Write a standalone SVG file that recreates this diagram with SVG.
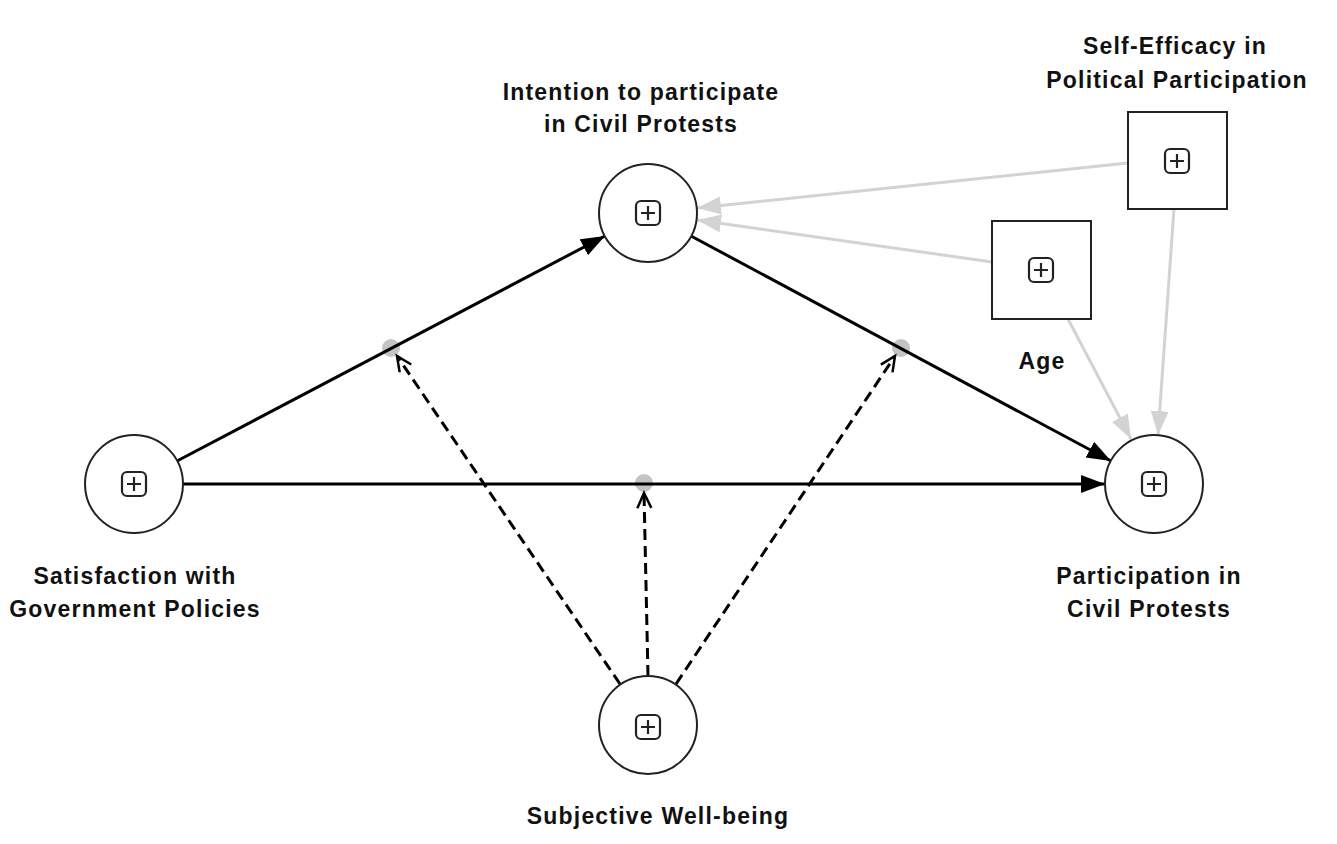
<svg xmlns="http://www.w3.org/2000/svg" width="1337" height="844" viewBox="0 0 1337 844">
<style>
.node{fill:#fff;stroke:#222;stroke-width:2}
.ic{fill:none;stroke:#222;stroke-width:2.2}
.lbl{font-family:"Liberation Sans",Arial,sans-serif;font-weight:bold;font-size:23px;letter-spacing:1.2px;fill:#111;text-anchor:middle}
.blk{stroke:#000;stroke-width:3;fill:none}
.gry{stroke:#d3d3d3;stroke-width:3;fill:none}
.dsh{stroke:#000;stroke-width:3;fill:none;stroke-dasharray:11 6}
.dot{fill:#c4c4c4}
</style>
<defs>
<marker id="ab" markerUnits="userSpaceOnUse" markerWidth="26" markerHeight="20" refX="24" refY="9" orient="auto"><path d="M0,0 L24,9 L0,18 Z" fill="#000"/></marker>
<marker id="ag" markerUnits="userSpaceOnUse" markerWidth="26" markerHeight="20" refX="24" refY="9" orient="auto"><path d="M0,0 L24,9 L0,18 Z" fill="#d3d3d3"/></marker>
<marker id="ao" markerUnits="userSpaceOnUse" markerWidth="20" markerHeight="20" refX="16" refY="8" orient="auto"><path d="M1,1 L16,8 L1,15" fill="none" stroke="#000" stroke-width="2.5"/></marker>
<g id="plus"><rect x="-12" y="-12" width="24" height="24" rx="5" class="ic"/><path d="M-7,0 H7 M0,-7 V7" class="ic"/></g>
</defs>
<g id="connectors">
<circle class="dot" cx="391" cy="348" r="9"/>
<circle class="dot" cx="901" cy="348" r="9"/>
<circle class="dot" cx="644" cy="483" r="9"/>
<line class="gry" x1="1128" y1="163" x2="697" y2="208" marker-end="url(#ag)"/>
<line class="gry" x1="992" y1="262" x2="697" y2="220" marker-end="url(#ag)"/>
<line class="gry" x1="1068" y1="319" x2="1131" y2="439" marker-end="url(#ag)"/>
<line class="gry" x1="1174" y1="209" x2="1158" y2="435" marker-end="url(#ag)"/>
<line class="blk" x1="177" y1="461" x2="605" y2="236" marker-end="url(#ab)"/>
<line class="blk" x1="691" y1="236" x2="1111" y2="461" marker-end="url(#ab)"/>
<line class="blk" x1="183" y1="484" x2="1105" y2="484" marker-end="url(#ab)"/>
<line class="dsh" x1="620" y1="684" x2="397" y2="356" marker-end="url(#ao)"/>
<line class="dsh" x1="648" y1="676" x2="644" y2="493" marker-end="url(#ao)"/>
<line class="dsh" x1="676" y1="684" x2="895" y2="356" marker-end="url(#ao)"/>
</g>
<g id="intention">
<circle class="node" cx="648" cy="213" r="49"/>
<use href="#plus" x="648" y="213"/>
<text class="lbl" x="641" y="100">Intention to participate</text>
<text class="lbl" x="641" y="132">in Civil Protests</text>
</g>
<g id="satisfaction">
<circle class="node" cx="134" cy="484" r="49"/>
<use href="#plus" x="134" y="484"/>
<text class="lbl" x="135" y="584">Satisfaction with</text>
<text class="lbl" x="135" y="617">Government Policies</text>
</g>
<g id="participation">
<circle class="node" cx="1154" cy="484" r="49"/>
<use href="#plus" x="1154" y="484"/>
<text class="lbl" x="1149" y="584">Participation in</text>
<text class="lbl" x="1149" y="617">Civil Protests</text>
</g>
<g id="wellbeing">
<circle class="node" cx="648" cy="725" r="49"/>
<use href="#plus" x="648" y="727"/>
<text class="lbl" x="658" y="824">Subjective Well-being</text>
</g>
<g id="selfefficacy">
<rect class="node" x="1128" y="112" width="99" height="97"/>
<use href="#plus" x="1177" y="161"/>
<text class="lbl" x="1175" y="54">Self-Efficacy in</text>
<text class="lbl" x="1177" y="88">Political Participation</text>
</g>
<g id="age">
<rect class="node" x="992" y="221" width="99" height="98"/>
<use href="#plus" x="1041" y="270"/>
<text class="lbl" x="1042" y="369">Age</text>
</g>
</svg>
